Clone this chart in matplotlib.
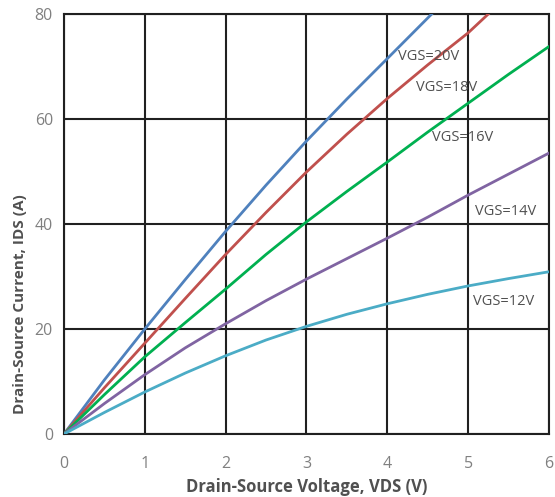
import matplotlib
matplotlib.use('Agg')
import matplotlib.pyplot as plt

# values
vds = [0, 0.5, 1, 1.5, 2, 2.5, 3, 3.5, 4, 4.5, 5, 5.5, 6]
id_12 = [0, 4.1, 8.0, 11.6, 14.9, 17.9, 20.5, 22.8, 24.8, 26.6, 28.2, 29.6, 30.9]
id_14 = [0, 5.8, 11.3, 16.4, 21.0, 25.4, 29.5, 33.4, 37.3, 41.3, 45.5, 49.5, 53.5]
id_16 = [0, 7.5, 14.7, 21.2, 27.6, 34.2, 40.4, 46.2, 51.8, 57.5, 63.0, 68.5, 73.8]
vds_18 = [0, 0.5, 1, 1.5, 2, 2.5, 3, 3.5, 4, 4.5, 5, 5.25]
id_18 = [0, 8.8, 17.3, 25.8, 34.2, 42.2, 49.9, 57.1, 63.9, 70.3, 76.4, 80.0]
vds_20 = [0, 0.5, 1, 1.5, 2, 2.5, 3, 3.5, 4, 4.55]
id_20 = [0, 10.3, 20.0, 29.4, 38.6, 47.4, 55.8, 63.8, 71.5, 80.0]

labels = ['VGS=20V', 'VGS=18V', 'VGS=16V', 'VGS=14V', 'VGS=12V']
label_pos = [(4.13, 72), (4.36, 66), (4.55, 56.5), (5.09, 42.3), (5.06, 25.3)]

colors = ['#4F81BD', '#C0504D', '#00B050', '#8064A2', '#4BACC6']

plt.rcParams['font.family'] = ['Open Sans', 'DejaVu Sans']

fig = plt.figure(figsize=(5.55, 4.97), dpi=100)
ax = fig.add_axes([0.1153, 0.1268, 0.8737, 0.845])

series = [(vds_20, id_20), (vds_18, id_18), (vds, id_16), (vds, id_14), (vds, id_12)]
for (x, y), c in zip(series, colors):
    ax.plot(x, y, color=c, lw=2, zorder=3)

for txt, (x, y) in zip(labels, label_pos):
    ax.text(x, y, txt, fontsize=10.5, color='#505050', va='center', ha='left', zorder=4)

ax.set_xlim(0, 6)
ax.set_ylim(0, 80)
ax.set_xticks(range(0, 7))
ax.set_yticks(range(0, 81, 20))
ax.grid(True, color='#202020', lw=1.5, zorder=1)
for sp in ax.spines.values():
    sp.set_color('#202020')
    sp.set_linewidth(1.5)
ax.tick_params(length=0, labelsize=11.5, labelcolor='#808080')
ax.tick_params(axis='x', pad=16)
ax.tick_params(axis='y', pad=8)

ax.set_xlabel('Drain-Source Voltage, VDS (V)', fontsize=12, fontweight='bold', color='#505050', labelpad=4)
ax.set_ylabel('Drain-Source Current, IDS (A)', fontsize=11, fontweight='bold', color='#505050')
ax.yaxis.set_label_coords(-0.076, 0.31)

fig.savefig('out.png', dpi=100)
